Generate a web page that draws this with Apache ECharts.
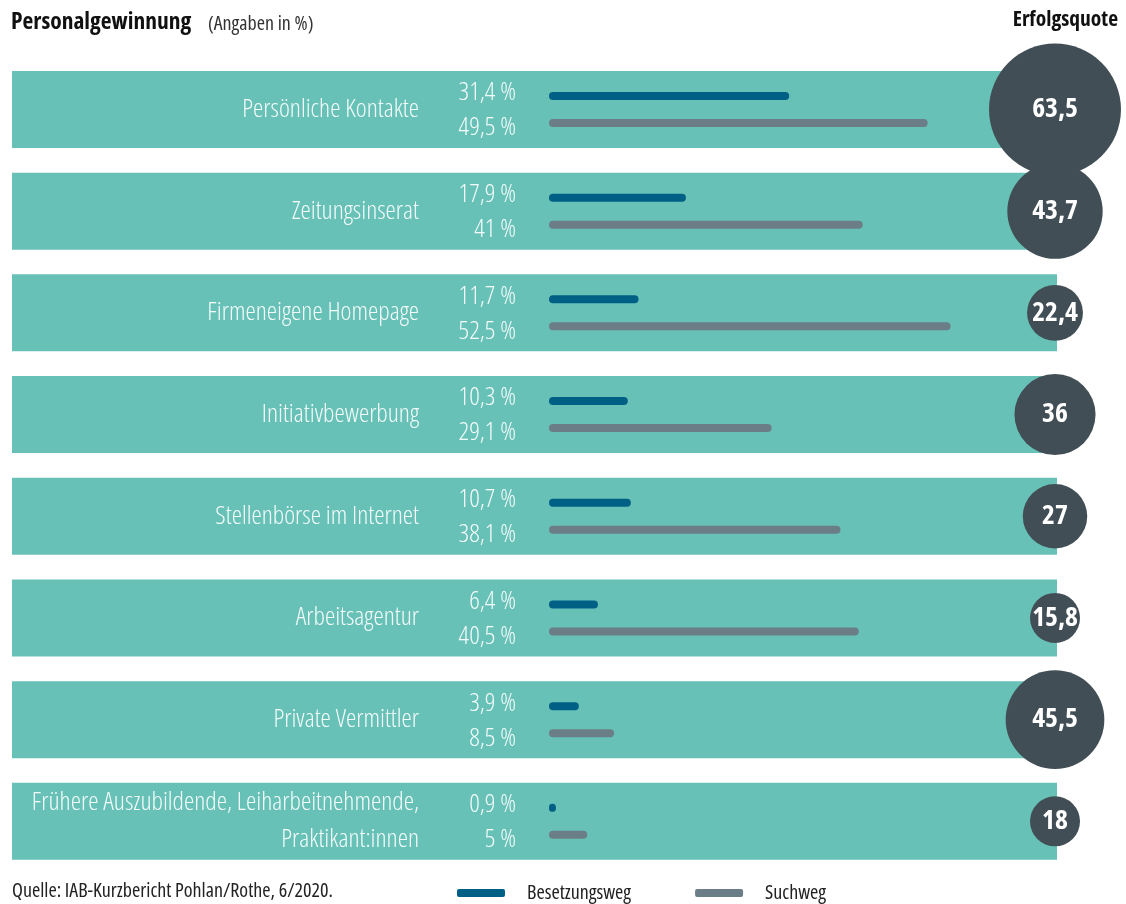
<!DOCTYPE html>
<html>
<head>
<meta charset="utf-8">
<script src="https://cdn.jsdelivr.net/npm/echarts@6/dist/echarts.min.js"></script>
<style>
html,body{margin:0;padding:0;background:#fff;}
#chart{width:1126px;height:904px;}
</style>
</head>
<body>
<div id="chart"></div>
<script>
// condensed face for Open Sans (variable width axis)
(function(){
  var d = Object.getOwnPropertyDescriptor(CanvasRenderingContext2D.prototype, 'font');
  Object.defineProperty(CanvasRenderingContext2D.prototype, 'font', {
    configurable: true,
    get: function(){ return d.get.call(this); },
    set: function(v){ d.set.call(this, v); try { this.fontStretch = 'condensed'; } catch(e){} }
  });
})();

const categories = [
  'Persönliche Kontakte',
  'Zeitungsinserat',
  'Firmeneigene Homepage',
  'Initiativbewerbung',
  'Stellenbörse im Internet',
  'Arbeitsagentur',
  'Private Vermittler',
  'Frühere Auszubildende, Leiharbeitnehmende,\nPraktikant:innen'
];
const besetzungsweg = [31.4, 17.9, 11.7, 10.3, 10.7, 6.4, 3.9, 0.9];
const suchweg = [49.5, 41, 52.5, 29.1, 38.1, 40.5, 8.5, 5];
const erfolgsquote = [63.5, 43.7, 22.4, 36, 27, 15.8, 45.5, 18];
const bandValues = categories.map(() => 1);

const FONT = "'Open Sans', 'Liberation Sans Narrow', sans-serif";
const TEAL = '#67c1b7';
const BLUE = '#005f84';
const GREY = '#6b7e87';
const DARK = '#424e55';
const LABEL = '#f4fbfa';

const fmt = v => String(v).replace('.', ',') + ' %';

const gridCommon = { top: 58.6, height: 813.6 };
const yCommon = {
  type: 'category', data: categories, inverse: true,
  axisLine: { show: false }, axisTick: { show: false }, splitLine: { show: false }
};

const chart = echarts.init(document.getElementById('chart'), null, { renderer: 'canvas' });
chart.setOption({
  animation: false,
  textStyle: { fontFamily: FONT },
  title: [
    { text: 'Personalgewinnung', left: 6, top: 5,
      textStyle: { fontFamily: FONT, fontWeight: 700, fontSize: 23.5, color: '#111' } },
    { text: '(Angaben in %)', left: 203, top: 9,
      textStyle: { fontFamily: FONT, fontWeight: 400, fontSize: 20, color: '#333' } },
    { text: 'Erfolgsquote', right: 3, top: 4,
      textStyle: { fontFamily: FONT, fontWeight: 700, fontSize: 21.5, color: '#111' } },
    { text: 'Quelle: IAB-Kurzbericht Pohlan/Rothe, 6/2020.', left: 7, top: 876,
      textStyle: { fontFamily: FONT, fontWeight: 400, fontSize: 20, color: '#222' } }
  ],
  legend: {
    left: 452, top: 878,
    itemWidth: 48, itemHeight: 8, itemGap: 64,
    icon: 'roundRect',
    data: ['Besetzungsweg', 'Suchweg'],
    textStyle: { fontFamily: FONT, fontWeight: 400, fontSize: 20, color: '#222', padding: [0, 0, 0, 17] }
  },
  grid: [
    Object.assign({ left: 12, right: 69 }, gridCommon),
    Object.assign({ left: 549, right: 118 }, gridCommon),
    Object.assign({ left: 1005, width: 100 }, gridCommon)
  ],
  xAxis: [
    { gridIndex: 0, type: 'value', min: 0, max: 1, show: false },
    { gridIndex: 1, type: 'value', min: 0, max: 60, show: false },
    { gridIndex: 2, type: 'category', data: ['Erfolgsquote'], show: false }
  ],
  yAxis: [
    Object.assign({ gridIndex: 0, axisLabel: { show: false } }, yCommon),
    Object.assign({ gridIndex: 1, z: 10, axisLabel: {
      show: true, margin: 130, color: LABEL, fontFamily: FONT, fontWeight: 300,
      fontSize: 26, lineHeight: 37, align: 'right'
    } }, yCommon),
    Object.assign({ gridIndex: 2, axisLabel: { show: false } }, yCommon)
  ],
  series: [
    { type: 'bar', name: 'band', xAxisIndex: 0, yAxisIndex: 0, data: bandValues, z: 0,
      barWidth: 77, silent: true, itemStyle: { color: TEAL }, legendHoverLink: false },
    { type: 'bar', name: 'Besetzungsweg', xAxisIndex: 1, yAxisIndex: 1, data: besetzungsweg,
      barWidth: 8, barGap: '237.5%',
      itemStyle: { color: BLUE, borderRadius: 4 },
      label: { show: true, position: 'left', distance: 33, offset: [0, -3],
        formatter: p => fmt(p.value), color: LABEL, fontFamily: FONT, fontWeight: 300, fontSize: 26 } },
    { type: 'bar', name: 'Suchweg', xAxisIndex: 1, yAxisIndex: 1, data: suchweg,
      barWidth: 8, barGap: '237.5%',
      itemStyle: { color: GREY, borderRadius: 4 },
      label: { show: true, position: 'left', distance: 33, offset: [0, 5],
        formatter: p => fmt(p.value), color: LABEL, fontFamily: FONT, fontWeight: 300, fontSize: 26 } },
    { type: 'scatter', name: 'Erfolgsquote', xAxisIndex: 2, yAxisIndex: 2,
      data: erfolgsquote.map((v, i) => ['Erfolgsquote', i, v]),
      encode: { x: 0, y: 1 },
      symbol: 'circle',
      symbolSize: val => Math.max(50, 14.5 + 1.85 * val[2]),
      itemStyle: { color: DARK, opacity: 1 },
      label: { show: true, position: 'inside', formatter: p => String(p.value[2]).replace('.', ','),
        color: '#fff', fontFamily: FONT, fontWeight: 700, fontSize: 27.5 } }
  ]
});
</script>
</body>
</html>
